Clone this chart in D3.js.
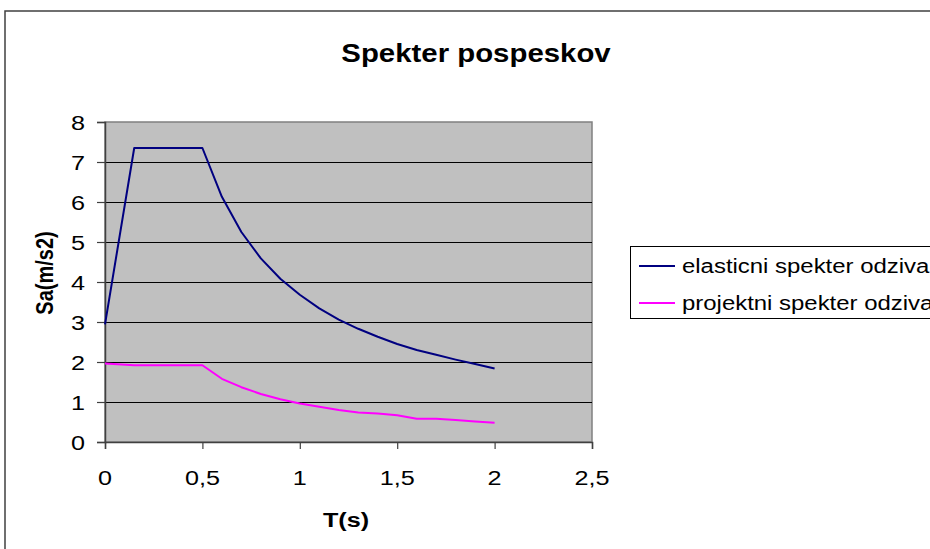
<!DOCTYPE html>
<html>
<head>
<meta charset="utf-8">
<script src="https://cdn.jsdelivr.net/npm/d3@7/dist/d3.min.js"></script>
<style>
  html, body { margin: 0; padding: 0; background: #fff; }
  svg { display: block; font-family: "Liberation Sans", Arial, sans-serif; }
</style>
</head>
<body>
<div id="chart"></div>
<script>
// data
const periods = [0, 0.15, 0.5, 0.6, 0.7, 0.8, 0.9, 1.0, 1.1, 1.2, 1.3, 1.4, 1.5, 1.6, 1.7, 1.8, 1.9, 2.0];
const elasticValues = [2.94, 7.35, 7.35, 6.13, 5.25, 4.59, 4.08, 3.68, 3.34, 3.06, 2.83, 2.63, 2.45, 2.30, 2.18, 2.06, 1.95, 1.84];
const designValues = [1.96, 1.92, 1.92, 1.58, 1.37, 1.20, 1.07, 0.96, 0.88, 0.80, 0.74, 0.71, 0.67, 0.58, 0.58, 0.55, 0.51, 0.48];
const seriesNames = ["elasticni spekter odziva", "projektni spekter odziva"];
const seriesColors = ["#000080", "#FF00FF"];
const xTicks = [0, 0.5, 1, 1.5, 2, 2.5];
const yTicks = [0, 1, 2, 3, 4, 5, 6, 7, 8];

const width = 930, height = 549;
const plot = { left: 105, right: 592, top: 122, bottom: 442 };
const sx = 1.2; // the reference text is stretched horizontally

const svg = d3.select("#chart").append("svg")
  .attr("width", width)
  .attr("height", height);

// helper: text with horizontal stretch
function label(x, y, txt, opts) {
  const o = opts || {};
  return svg.append("text")
    .attr("transform", `translate(${x},${y}) scale(${o.sx || sx},1)`)
    .attr("text-anchor", o.anchor || "middle")
    .style("font-size", (o.size || 21) + "px")
    .style("font-weight", o.bold ? "bold" : "normal")
    .style("fill", "#000")
    .text(txt);
}

// outer chart frame (runs past the right and bottom edges)
svg.append("rect")
  .attr("x", 5).attr("y", 11)
  .attr("width", 960).attr("height", 560)
  .style("fill", "#fff")
  .style("stroke", "#404040")
  .style("stroke-width", 1.5);

const x = d3.scaleLinear().domain([0, 2.5]).range([plot.left, plot.right]);
const y = d3.scaleLinear().domain([0, 8]).range([plot.bottom, plot.top]);

// plot area
svg.append("rect")
  .attr("x", plot.left).attr("y", plot.top)
  .attr("width", plot.right - plot.left)
  .attr("height", plot.bottom - plot.top)
  .style("fill", "#C0C0C0")
  .style("stroke", "#808080")
  .style("stroke-width", 1.5);

// gridlines
svg.append("g")
  .selectAll("line")
  .data(yTicks.filter(d => d > 0 && d < 8))
  .join("line")
  .attr("x1", plot.left).attr("x2", plot.right)
  .attr("y1", d => Math.round(y(d)) + 0.5)
  .attr("y2", d => Math.round(y(d)) + 0.5)
  .style("stroke", "#000")
  .style("stroke-width", 1);

// y axis
const yAxis = svg.append("g")
  .attr("transform", `translate(${plot.left},0)`)
  .call(d3.axisLeft(y).tickValues(yTicks).tickSize(8).tickFormat(""));
yAxis.select(".domain").style("stroke", "#404040").style("stroke-width", 1.5);
yAxis.selectAll(".tick line").style("stroke", "#404040").style("stroke-width", 1.2);
yTicks.forEach(v => {
  label(85, y(v) + 8, String(v), { anchor: "end" });
});

// x axis
const xAxis = svg.append("g")
  .attr("transform", `translate(0,${plot.bottom})`)
  .call(d3.axisBottom(x).tickValues(xTicks).tickSize(7).tickFormat(""));
xAxis.select(".domain").style("stroke", "#404040").style("stroke-width", 1.5);
xAxis.selectAll(".tick line").style("stroke", "#404040").style("stroke-width", 1.2);
xTicks.forEach(v => {
  label(x(v), 485, String(v).replace(".", ","), {});
});

// series lines
const line = d3.line()
  .x(d => x(d[0]))
  .y(d => y(d[1]));

[elasticValues, designValues].forEach((vals, i) => {
  svg.append("path")
    .datum(periods.map((p, k) => [p, vals[k]]))
    .attr("d", line)
    .style("fill", "none")
    .style("stroke", seriesColors[i])
    .style("stroke-width", 2)
    .style("stroke-linejoin", "round");
});

// titles
label(476, 62, "Spekter pospeskov", { size: 26, bold: true, sx: 1.13 });
label(346, 527, "T(s)", { size: 21, bold: true });
svg.append("text")
  .attr("transform", `translate(53,273) scale(1.2,1) rotate(-90)`)
  .attr("text-anchor", "middle")
  .style("font-size", "20px")
  .style("font-weight", "bold")
  .text("Sa(m/s2)");

// legend
const legend = svg.append("g").attr("transform", "translate(630,246)");
legend.append("rect")
  .attr("x", 0.5).attr("y", 0.5)
  .attr("width", 400).attr("height", 72)
  .style("fill", "#fff")
  .style("stroke", "#000")
  .style("stroke-width", 1);
seriesNames.forEach((name, i) => {
  const yy = 20 + i * 37;
  legend.append("line")
    .attr("x1", 9).attr("x2", 45)
    .attr("y1", yy).attr("y2", yy)
    .style("stroke", seriesColors[i])
    .style("stroke-width", 2);
  legend.append("text")
    .attr("transform", `translate(52,${yy + 7}) scale(1.14,1)`)
    .style("font-size", "21px")
    .text(name);
});
</script>
</body>
</html>
